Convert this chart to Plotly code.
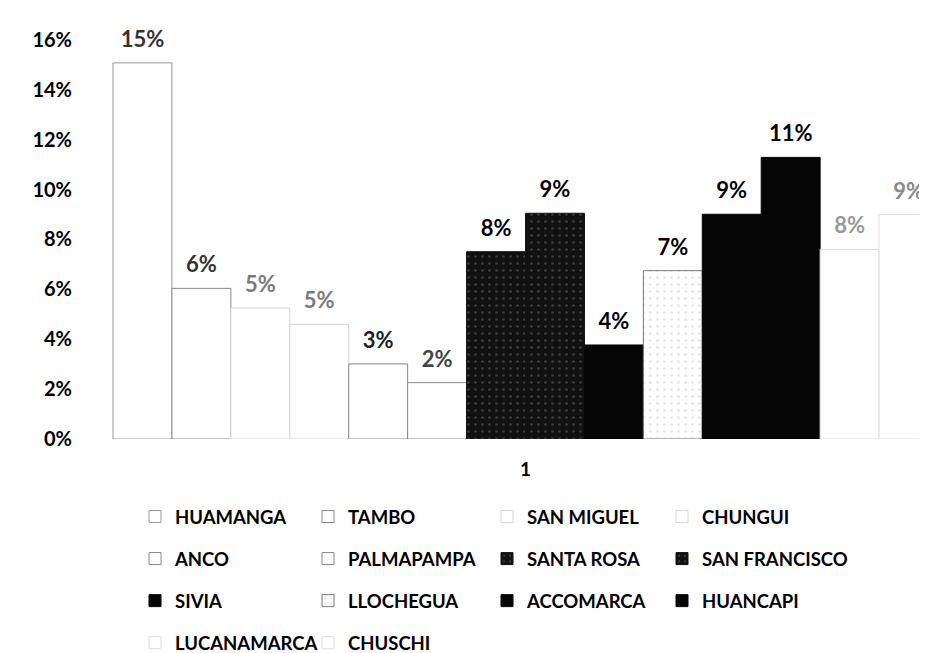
import plotly.graph_objects as go

# ---- data ----
categories = ["1"]
series_names = ["HUAMANGA", "TAMBO", "SAN MIGUEL", "CHUNGUI", "ANCO", "PALMAPAMPA",
                "SANTA ROSA", "SAN FRANCISCO", "SIVIA", "LLOCHEGUA", "ACCOMARCA",
                "HUANCAPI", "LUCANAMARCA", "CHUSCHI"]
series_values = [0.1508, 0.0604, 0.0525, 0.046, 0.0301, 0.0226,
                 0.0751, 0.0905, 0.0377, 0.0675, 0.0901,
                 0.1129, 0.076, 0.090]
y_tick_values = [0, 0.02, 0.04, 0.06, 0.08, 0.10, 0.12, 0.14, 0.16]
y_tick_labels = ["0%", "2%", "4%", "6%", "8%", "10%", "12%", "14%", "16%"]

# ---- styles ----
FONT = "Lato"
W, H = 927, 653
OFF = 8  # page body margin offset
fills = ["#ffffff", "#ffffff", "#ffffff", "#ffffff", "#ffffff", "#ffffff",
         "#111111", "#111111", "#050505", "#ffffff", "#050505",
         "#050505", "#ffffff", "#ffffff"]
lines = ["#999999", "#888888", "#d6d6d6", "#d6d6d6", "#888888", "#888888",
         "#111111", "#111111", "#050505", "#777777", "#050505",
         "#050505", "#dddddd", "#dddddd"]
patterns = [None, None, None, None, None, None,
            dict(shape=".", fgcolor="#6a6a6a", bgcolor="#111111", size=7, solidity=0.12),
            dict(shape=".", fgcolor="#6a6a6a", bgcolor="#111111", size=7, solidity=0.12),
            None,
            dict(shape=".", fgcolor="#c8c8c8", bgcolor="#ffffff", size=7, solidity=0.12),
            None, None, None, None]
label_colors = ["#333333", "#333333", "#7a7a7a", "#7a7a7a", "#222222", "#444444",
                "#000000", "#000000", "#000000", "#000000", "#000000",
                "#000000", "#999999", "#8a8a8a"]
LABEL_PAD = 0.0032  # gap between bar top and its label (data units)

fig = go.Figure()
for i, (name, val) in enumerate(zip(series_names, series_values)):
    col = i % 4
    leg = "legend" if col == 0 else f"legend{col + 1}"
    marker = dict(color=fills[i], line=dict(color=lines[i], width=1))
    if patterns[i]:
        marker["pattern"] = patterns[i]
    fig.add_trace(go.Bar(
        x=categories, y=[val], name=name, marker=marker,
        offsetgroup=str(i), legend=leg, legendgroup=name,
        hovertemplate=name + ": %{y:.0%}<extra></extra>",
    ))
    # label carrier (transparent) sitting on top of the bar
    fig.add_trace(go.Bar(
        x=categories, y=[LABEL_PAD], base=[val], name=name,
        offsetgroup=str(i), showlegend=False, legend=leg, legendgroup=name,
        marker=dict(color="rgba(0,0,0,0)", line=dict(width=0)),
        text=[f"{val:.0%}"], textposition="outside", cliponaxis=False,
        textfont=dict(family=FONT, size=22, color=label_colors[i], weight="bold"),
        hoverinfo="skip",
    ))

# geometry (screen targets, converted to figure coords by OFF)
left = 80 - OFF
right = OFF
top = 15 - OFF
bottom = H - (439 - OFF)
bargap = 0.097
group_left, group_right = 113 - OFF, 938 - OFF
unit = (group_right - group_left) / (1 - bargap)
center = (group_left + group_right) / 2
r0 = -(center - left) / unit
r1 = (W - right - center) / unit

fig.update_layout(
    width=W, height=H,
    margin=dict(l=left, r=right, t=top, b=bottom, pad=0, autoexpand=False),
    paper_bgcolor="white", plot_bgcolor="white",
    barmode="group", bargap=bargap, bargroupgap=0,
    font=dict(family=FONT, size=19, color="#000000", weight="bold"),
    xaxis=dict(type="category", range=[r0, r1], showgrid=False, showline=False,
               zeroline=False, ticks="outside", ticklen=13, tickcolor="rgba(0,0,0,0)",
               automargin=False,
               tickfont=dict(family=FONT, size=19, color="#000", weight="bold")),
    yaxis=dict(range=[0, 0.17], tickvals=y_tick_values, ticktext=y_tick_labels,
               showgrid=False, showline=False, zeroline=False, automargin=False,
               ticks="outside", ticklen=3, tickcolor="rgba(0,0,0,0)",
               tickfont=dict(family=FONT, size=20, color="#000", weight="bold")),
    showlegend=True,
)

legend_text_left = [169, 342, 521, 696]
legend_top = 490
for col in range(4):
    key = "legend" if col == 0 else f"legend{col + 1}"
    fig.update_layout({key: dict(
        xref="container", yref="container",
        x=(legend_text_left[col] - 42) / W, y=1 - legend_top / H,
        xanchor="left", yanchor="top", orientation="v",
        traceorder="grouped", tracegroupgap=15,
        bgcolor="rgba(0,0,0,0)", borderwidth=0,
        font=dict(family=FONT, size=18.5, color="#000", weight="bold"),
    )})

fig.write_html("out.html")
